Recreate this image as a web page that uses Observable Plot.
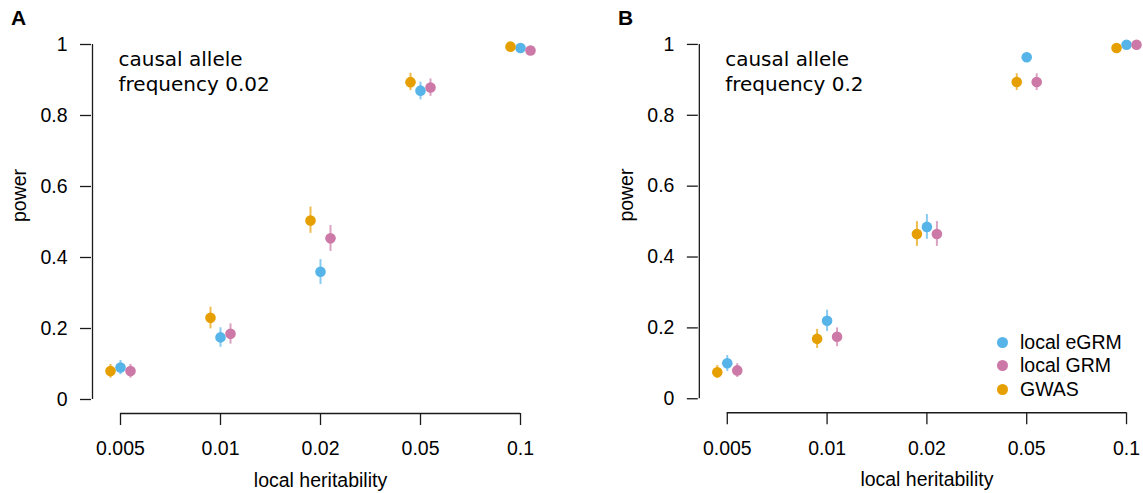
<!DOCTYPE html>
<html>
<head>
<meta charset="utf-8">
<script src="https://cdn.jsdelivr.net/npm/d3@7"></script>
<script src="https://cdn.jsdelivr.net/npm/@observablehq/plot@0.6"></script>
<style>
  html, body { margin: 0; padding: 0; background: #fff; overflow: hidden; }
  #wrap { position: relative; width: 1143px; height: 493px; font-family: "Liberation Sans", Arial, sans-serif; }
  .panel { position: absolute; top: 0; }
  .tag { position: absolute; top: 6px; font: bold 21px "Liberation Sans", Arial, sans-serif; color: #000; }
  .legend { position: absolute; font: 19.5px "Liberation Sans", Arial, sans-serif; color: #000; }
  .legend .row { position: absolute; left: 0; height: 24px; white-space: nowrap; display: flex; align-items: center; }
  .legend .sw { width: 11px; height: 11px; border-radius: 50%; margin-right: 12px; }
</style>
</head>
<body>
<div id="wrap"></div>
<script>
// ---- data ----
const heritability = ["0.005", "0.01", "0.02", "0.05", "0.1"];
const seriesNames = ["local eGRM", "local GRM", "GWAS"];
const seriesColors = ["#56B4E9", "#CC79A7", "#E69F00"];
const panelTags = ["A", "B"];
const panelNotes = ["causal allele\nfrequency 0.02", "causal allele\nfrequency 0.2"];
const yTicks = [0, 0.2, 0.4, 0.6, 0.8, 1];

// Panel A (causal allele frequency 0.02)
const powerA_eGRM = [0.09, 0.175, 0.36, 0.87, 0.99];
const lowA_eGRM   = [0.07, 0.147, 0.324, 0.844, 0.985];
const highA_eGRM  = [0.11, 0.202, 0.394, 0.894, 0.995];
const powerA_GRM  = [0.08, 0.185, 0.454, 0.879, 0.983];
const lowA_GRM    = [0.06, 0.156, 0.417, 0.854, 0.976];
const highA_GRM   = [0.099, 0.213, 0.49, 0.903, 0.99];
const powerA_GWAS = [0.08, 0.23, 0.504, 0.894, 0.994];
const lowA_GWAS   = [0.06, 0.199, 0.468, 0.87, 0.99];
const highA_GWAS  = [0.099, 0.26, 0.542, 0.919, 0.998];

// Panel B (causal allele frequency 0.2)
const powerB_eGRM = [0.1, 0.22, 0.485, 0.964, 0.999];
const lowB_eGRM   = [0.077, 0.19, 0.45, 0.952, 0.997];
const highB_eGRM  = [0.122, 0.25, 0.52, 0.976, 1.0];
const powerB_GRM  = [0.08, 0.175, 0.465, 0.894, 0.999];
const lowB_GRM    = [0.06, 0.147, 0.43, 0.87, 0.997];
const highB_GRM   = [0.099, 0.2, 0.5, 0.917, 1.0];
const powerB_GWAS = [0.075, 0.169, 0.465, 0.894, 0.99];
const lowB_GWAS   = [0.057, 0.142, 0.43, 0.87, 0.983];
const highB_GWAS  = [0.094, 0.196, 0.5, 0.917, 0.996];

const panels = [
  {power: [powerA_eGRM, powerA_GRM, powerA_GWAS], low: [lowA_eGRM, lowA_GRM, lowA_GWAS], high: [highA_eGRM, highA_GRM, highA_GWAS]},
  {power: [powerB_eGRM, powerB_GRM, powerB_GWAS], low: [lowB_eGRM, lowB_GRM, lowB_GWAS], high: [highB_eGRM, highB_GRM, highB_GWAS]}
];
const seriesOffsets = [0, 10, -10]; // eGRM centre, GRM right, GWAS left

function rowsFor(p, s) {
  return heritability.map((h, i) => ({h, series: seriesNames[s], power: p.power[s][i], lo: p.low[s][i], hi: p.high[s][i]}));
}

const wrap = document.getElementById("wrap");
const panelLefts = [0, 607];
const axisColor = "#1a1a1a";

panels.forEach((p, k) => {
  const marks = [];
  // axis lines (R style, detached)
  marks.push(Plot.ruleX([heritability[0]], {y1: 0, y2: 1, dx: -28, stroke: axisColor, strokeWidth: 1.3}));
  marks.push(Plot.ruleY([0], {x1: () => heritability[0], x2: () => heritability[heritability.length - 1], dy: 14, stroke: axisColor, strokeWidth: 1.3}));
  marks.push(Plot.axisY({ticks: yTicks, tickSize: 11, tickPadding: 13, stroke: axisColor, strokeWidth: 1.3,
    tickFormat: d => String(d), label: null, fontSize: 19.5}));
  marks.push(Plot.axisX({tickSize: 12, tickPadding: 16, stroke: axisColor, strokeWidth: 1.3, label: null, fontSize: 19.5}));
  // axis titles
  marks.push(Plot.text(["local heritability"], {frameAnchor: "bottom", dx: 14, dy: 67, fontSize: 19.5, lineAnchor: "middle", fill: "#000"}));
  marks.push(Plot.text(["power"], {frameAnchor: "left", dx: -72, dy: -7, rotate: -90, fontSize: 19.5, fill: "#000"}));
  // note
  marks.push(Plot.text([panelNotes[k]], {frameAnchor: "top-left", dx: 27, dy: 4, textAnchor: "start", lineAnchor: "top",
    lineHeight: 1.25, fontSize: 20, fontFamily: "DejaVu Sans", fill: "#000"}));
  // error bars then dots
  seriesNames.forEach((name, s) => {
    const rows = rowsFor(p, s);
    marks.push(Plot.ruleX(rows, {x: "h", y1: "lo", y2: "hi", dx: seriesOffsets[s], stroke: seriesColors[s], strokeOpacity: 0.7, strokeWidth: 2}));
  });
  seriesNames.forEach((name, s) => {
    const rows = rowsFor(p, s);
    marks.push(Plot.dot(rows, {x: "h", y: "power", dx: seriesOffsets[s], r: 5.3, fill: seriesColors[s], stroke: "none"}));
  });

  const chart = Plot.plot({
    width: 537,
    height: 493,
    marginLeft: 91,
    marginRight: 16,
    marginTop: 44,
    marginBottom: 80,
    style: {fontFamily: "'Liberation Sans', Arial, sans-serif", fontSize: "19.5px", color: "#000", background: "transparent", overflow: "visible"},
    x: {type: "point", domain: heritability, padding: 0, insetLeft: 28, axis: null},
    y: {domain: [0, 1], insetBottom: 14, axis: null},
    marks
  });
  const holder = document.createElement("div");
  holder.className = "panel";
  holder.style.left = panelLefts[k] + "px";
  holder.appendChild(chart);
  wrap.appendChild(holder);

  const tag = document.createElement("div");
  tag.className = "tag";
  tag.style.left = (panelLefts[k] + 11) + "px";
  tag.textContent = panelTags[k];
  wrap.appendChild(tag);
});

// legend (panel B, lower right)
const legend = document.createElement("div");
legend.className = "legend";
legend.style.left = "997px";
legend.style.top = "330px";
seriesNames.forEach((name, s) => {
  const row = document.createElement("div");
  row.className = "row";
  row.style.top = (s * 23.7) + "px";
  const sw = document.createElement("span");
  sw.className = "sw";
  sw.style.background = seriesColors[s];
  const t = document.createElement("span");
  t.textContent = name;
  row.appendChild(sw);
  row.appendChild(t);
  legend.appendChild(row);
});
wrap.appendChild(legend);
</script>
</body>
</html>
